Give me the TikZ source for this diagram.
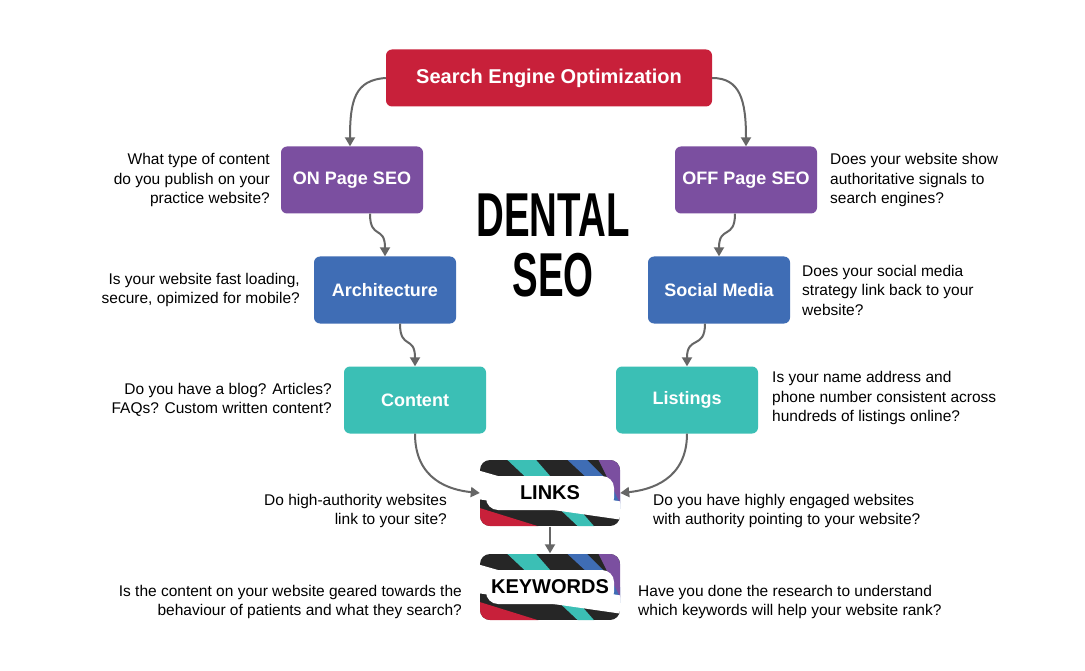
\documentclass[tikz,border=0pt]{standalone}
\usepackage{fontspec}
\setmainfont{Liberation Sans}
\usetikzlibrary{arrows.meta}
\definecolor{cred}{HTML}{C8203A}
\definecolor{cpur}{HTML}{7B4FA0}
\definecolor{cblue}{HTML}{3F6DB5}
\definecolor{cteal}{HTML}{3BBFB5}
\definecolor{cgray}{HTML}{666666}
\begin{document}
\begin{tikzpicture}[x=1pt,y=-1pt,
  box/.style={rounded corners=6pt,minimum height=67pt,minimum width=142pt,text=white,font=\fontsize{18}{20}\selectfont\bfseries,inner sep=0pt},
  q/.style={font=\fontsize{15.5}{19.5}\selectfont,align=left,inner sep=0pt},
  ql/.style={q,align=right,anchor=east},
  qr/.style={q,anchor=west},
  arr/.style={draw=cgray,line width=2pt,-{Triangle[length=9pt,width=10pt]}}]
\useasboundingbox (0,0) rectangle (1085,671);
\fill[white] (0,0) rectangle (1085,671);
\node[box,fill=cred,minimum width=326pt,minimum height=57pt,font=\fontsize{20}{22}\selectfont\bfseries] (seo) at (549,78) {Search Engine Optimization};
\node[box,fill=cpur] (on) at (352,180) {ON Page SEO};
\node[box,fill=cpur] (off) at (746,180) {OFF Page SEO};
\node[box,fill=cblue] (arch) at (385,290) {Architecture};
\node[box,fill=cblue] (soc) at (719,290) {Social Media};
\node[box,fill=cteal] (cont) at (415,400) {Content};
\node[box,fill=cteal] (list) at (687,400) {Listings};
% stripe boxes
\foreach \nm/\cy in {links/493,kw/587}{
\begin{scope}
\clip[rounded corners=10pt] (480,\cy-33) rectangle (620,\cy+33);
\fill[black!85] (480,\cy-33) rectangle (620,\cy+33);
\fill[cteal] (500,\cy-40) -- (530,\cy-40) -- (600,\cy+40) -- (585,\cy+40) -- cycle;
\fill[cblue] (560,\cy-40) -- (580,\cy-40) -- (630,\cy+10) -- (630,\cy+25) -- cycle;
\fill[cpur] (595,\cy-40) -- (625,\cy-40) -- (625,\cy+20) -- cycle;
\fill[cred] (470,\cy+12) -- (560,\cy+40) -- (470,\cy+40) -- cycle;
\fill[white] (470,\cy-25) -- (540,\cy-5) -- (630,\cy+10) -- (630,\cy+28) -- (470,\cy+5) -- cycle;
\fill[white,rounded corners=12pt] (486,\cy-17) rectangle (614,\cy+17);
\end{scope}}
\node[inner sep=0pt,minimum width=140pt,minimum height=67pt,font=\fontsize{20}{22}\selectfont\bfseries] (links) at (550,493) {LINKS};
\node[inner sep=0pt,minimum width=140pt,minimum height=67pt,font=\fontsize{20}{22}\selectfont\bfseries] (kw) at (550,587) {KEYWORDS};
\node[inner sep=0pt,align=center,font=\fontsize{62}{64}\selectfont\bfseries] (dental) at (553,245) {\scalebox{0.62}[1]{DENTAL}\\[-4pt]\scalebox{0.62}[1]{SEO}};
% questions
\node[ql] (q1) at (270,180) {What type of content\\do you publish on your\\practice website?};
\node[qr] (q2) at (830,180) {Does your website show\\authoritative signals to\\search engines?};
\node[ql] (q3) at (300,290) {Is your website fast loading,\\secure, opimized for mobile?};
\node[qr] (q4) at (802,290) {Does your social media\\strategy link back to your\\website?};
\node[ql] (q5) at (332,400) {Do you have a blog? Articles?\\FAQs? Custom written content?};
\node[qr] (q6) at (772,398) {Is your name address and\\phone number consistent across\\hundreds of listings online?};
\node[ql] (q7) at (447,511) {Do high-authority websites\\link to your site?};
\node[qr] (q8) at (653,511) {Do you have highly engaged websites\\with authority pointing to your website?};
\node[ql] (q9) at (462,602) {Is the content on your website geared towards the\\behaviour of patients and what they search?};
\node[qr] (q10) at (638,602) {Have you done the research to understand\\which keywords will help your website rank?};
% arrows
\draw[arr] (seo.west) .. controls (355,80) and (350,100) .. (on.north -| 350,0);
\draw[arr] (seo.east) .. controls (740,78) and (746,100) .. (off.north);
\draw[arr] (on.south) ++(18,0) .. controls (370,240) and (385,225) .. (arch.north);
\draw[arr] (off.south) ++(-11,0) .. controls (735,240) and (719,225) .. (soc.north);
\draw[arr] (arch.south) ++(15,0) .. controls (400,350) and (415,335) .. (cont.north);
\draw[arr] (soc.south) ++(-14,0) .. controls (705,350) and (687,335) .. (list.north);
\draw[arr] (cont.south) .. controls (415,480) and (450,490) .. (links.west);
\draw[arr] (list.south) .. controls (687,480) and (650,490) .. (links.east);
\draw[arr] (links.south) -- (kw.north);
\end{tikzpicture}
\end{document}
